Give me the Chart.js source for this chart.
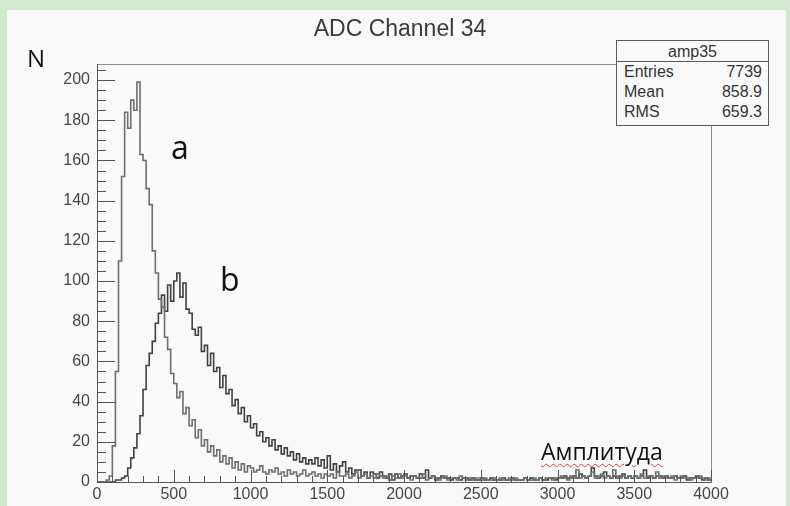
<!DOCTYPE html>
<html>
<head>
<meta charset="utf-8">
<script src="https://cdn.jsdelivr.net/npm/chart.js@4.4.0/dist/chart.umd.min.js"></script>
<style>
  html, body { margin: 0; padding: 0; }
  body { width: 790px; height: 506px; background: #d3e9cf; position: relative; overflow: hidden; }
  .sheet { position: absolute; left: 7px; top: 10px; right: 4px; bottom: 0; background: #f9f9f9; }
  #wrap { position: absolute; left: 0; top: 0; width: 790px; height: 506px; }
  .txt { position: absolute; white-space: nowrap; line-height: 1; }
  .root { font-family: 'Liberation Sans', Arial, sans-serif; color: #3a3a3a; }
  .note { font-family: 'Open Sans', 'Noto Sans', sans-serif; color: #111; }
  #stats { position: absolute; left: 616px; top: 40px; width: 151px; height: 84px;
           border: 1px solid #5a5a5a; background: #f9f9f9; font-family: 'Liberation Sans', Arial, sans-serif;
           font-size: 16px; color: #333; }
  #stats .head { height: 20px; line-height: 21px; text-align: center; border-bottom: 1px solid #5a5a5a; }
  #stats .row { height: 20px; line-height: 20px; display: flex; justify-content: space-between; padding: 0 6px 0 7px; }
</style>
</head>
<body>
<div class="sheet"></div>
<div id="wrap"><canvas id="adc-chart"></canvas></div>

<div class="txt root" style="left:0; width:800px; text-align:center; top:17px; font-size:23px;">ADC Channel 34</div>
<div class="txt note" style="left:27px; top:46px; font-size:24px;">N</div>
<div class="txt note" style="left:171px; top:131px; font-size:32px;">a</div>
<div class="txt note" style="left:220px; top:263px; font-size:32px;">b</div>
<div class="txt note" style="left:541px; top:440px; font-size:23px; text-decoration: underline wavy #d84040; text-decoration-thickness: 1px; text-underline-offset: 3px;">Амплитуда</div>

<div id="stats">
  <div class="head">amp35</div>
  <div class="row"><span>Entries</span><span>7739</span></div>
  <div class="row"><span>Mean</span><span>858.9</span></div>
  <div class="row"><span>RMS</span><span>659.3</span></div>
</div>

<script>
// bin width of both histograms (ADC counts)
const binWidth = 20;
const xMax = 4000;
const yMax = 208;

// axis labels
const xTickLabels = [0, 500, 1000, 1500, 2000, 2500, 3000, 3500, 4000];
const yTickLabels = [0, 20, 40, 60, 80, 100, 120, 140, 160, 180, 200];

// histogram a: narrow peak near 260
const histA = [
  0, 0, 0, 1, 3, 18, 55, 110, 152, 184,
  176, 190, 185, 199, 163, 160, 146, 138, 115, 104,
  91, 87, 72, 66, 54, 49, 42, 45, 34, 37,
  28, 31, 22, 26, 18, 21, 15, 18, 13, 16,
  10, 13, 9, 12, 7, 10, 6, 9, 5, 8,
  7, 5, 6, 8, 5, 4, 6, 5, 7, 4, 5, 3, 6, 4, 5, 3, 4, 6, 3, 4, 5, 3, 4, 2, 4,
  3, 4, 2, 5, 3, 3, 4, 2, 3, 5, 2, 3, 4, 2, 3, 2, 4, 3, 2, 3, 1, 3, 2, 4, 2,
  3, 2, 1, 3, 2, 2, 4, 1, 2, 3, 2, 1, 2, 3, 1, 2, 2, 1, 3, 2, 1, 2, 1, 2, 2,
  1, 2, 1, 1, 2, 1, 2, 1, 1, 2, 1, 2, 1, 1, 2, 1, 1, 2, 1, 2, 1, 2, 2, 1, 2,
  2, 3, 2, 1, 3, 2, 6, 2, 3, 2, 3, 5, 2, 3, 4, 2, 3, 2, 6, 3, 2, 3, 2, 3, 2,
  3, 2, 4, 2, 3, 3, 2, 5, 2, 3, 2, 2, 3, 1, 2, 3, 2, 2, 1, 2, 2, 3, 2, 1, 2
];

// histogram b: broad peak near 530 with a long tail
const histB = [
  0, 0, 0, 0, 0, 0, 1, 1, 2, 3,
  7, 12, 17, 24, 33, 46, 58, 64, 70, 79,
  84, 93, 85, 98, 90, 100, 104, 92, 99, 86,
  84, 76, 73, 77, 65, 68, 58, 64, 55, 57,
  47, 53, 44, 46, 38, 41, 34, 37, 30, 33,
  27, 29, 23, 25, 20, 22, 18, 21, 16, 18, 14, 17, 13, 15, 11, 14, 10, 12, 9, 11, 9, 12, 8, 11, 7,
  13, 6, 9, 5, 8, 10, 5, 7, 4, 6, 6, 3, 5, 2, 5, 4, 2, 5, 3, 2, 4, 1, 4, 2, 3,
  4, 2, 3, 3, 2, 4, 2, 6, 2, 3, 1, 2, 3, 2, 2, 1, 2, 2, 1, 2, 2, 1, 2, 1, 1,
  2, 1, 1, 2, 1, 1, 1, 2, 1, 1, 2, 1, 1, 1, 2, 1, 2, 1, 1, 2, 1, 1, 2, 2, 1,
  2, 2, 3, 2, 2, 3, 2, 4, 3, 2, 3, 7, 3, 2, 3, 5, 3, 2, 3, 2, 3, 4, 2, 3, 2,
  3, 2, 3, 6, 2, 3, 2, 3, 3, 2, 3, 2, 2, 3, 2, 2, 3, 1, 2, 2, 3, 2, 1, 2, 1
];

// turn bin contents into step points (bin start -> value), closed at the right edge
function toSteps(counts) {
  const pts = counts.map((c, i) => ({ x: i * binWidth, y: c }));
  pts.push({ x: counts.length * binWidth, y: counts[counts.length - 1] });
  return pts;
}

// ROOT-style frame with inward ticks
const rootFrame = {
  id: 'rootFrame',
  afterDraw(chart) {
    const { ctx, chartArea: a, scales: { x, y } } = chart;
    ctx.save();
    ctx.lineWidth = 1;
    ctx.strokeStyle = '#8c8c8c';
    ctx.strokeRect(a.left + 0.5, a.top + 0.5, a.right - a.left, a.bottom - a.top);

    ctx.strokeStyle = '#555';
    ctx.beginPath();
    ctx.moveTo(a.left + 0.5, a.top);
    ctx.lineTo(a.left + 0.5, a.bottom + 0.5);
    ctx.lineTo(a.right, a.bottom + 0.5);
    // y ticks every 5, long every 20
    for (let v = 0; v <= yMax; v += 5) {
      const py = Math.round(y.getPixelForValue(v)) + 0.5;
      const len = v % 20 === 0 ? 18 : 9;
      ctx.moveTo(a.left, py);
      ctx.lineTo(a.left + len, py);
    }
    // x ticks every 100, long every 500
    for (let v = 0; v <= xMax; v += 100) {
      const px = Math.round(x.getPixelForValue(v)) + 0.5;
      const len = v % 500 === 0 ? 12 : 6;
      ctx.moveTo(px, a.bottom);
      ctx.lineTo(px, a.bottom - len);
    }
    ctx.stroke();
    ctx.restore();
  }
};

Chart.defaults.font.family = "'Liberation Sans', Arial, sans-serif";
Chart.defaults.font.size = 16;
Chart.defaults.color = '#474747';

const adcCtx = document.getElementById('adc-chart');
new Chart(adcCtx, {
  type: 'line',
  data: {
    datasets: [
      {
        label: 'a',
        data: toSteps(histA),
        stepped: 'before',
        borderColor: '#6c6f6b',
        borderWidth: 1.6,
        pointRadius: 0,
        fill: false
      },
      {
        label: 'b',
        data: toSteps(histB),
        stepped: 'before',
        borderColor: '#3f423e',
        borderWidth: 1.6,
        pointRadius: 0,
        fill: false
      }
    ]
  },
  options: {
    responsive: true,
    maintainAspectRatio: false,
    animation: false,
    events: [],
    layout: { padding: { left: 0, top: 64, right: 79, bottom: 0 } },
    plugins: {
      legend: { display: false },
      tooltip: { enabled: false },
      title: { display: false }
    },
    scales: {
      x: {
        type: 'linear',
        min: 0,
        max: xMax,
        grid: { display: false, drawTicks: false },
        border: { display: false },
        afterBuildTicks: s => { s.ticks = xTickLabels.map(v => ({ value: v })); },
        ticks: { autoSkip: false, maxRotation: 0, padding: 3, callback: v => String(v) },
        afterFit: s => { s.height = 24; }
      },
      y: {
        min: 0,
        max: yMax,
        grid: { display: false, drawTicks: false },
        border: { display: false },
        afterBuildTicks: s => { s.ticks = yTickLabels.map(v => ({ value: v })); },
        ticks: { autoSkip: false, padding: 7, callback: v => String(v) },
        afterFit: s => { s.width = 97; }
      }
    }
  },
  plugins: [rootFrame]
});
</script>
</body>
</html>
